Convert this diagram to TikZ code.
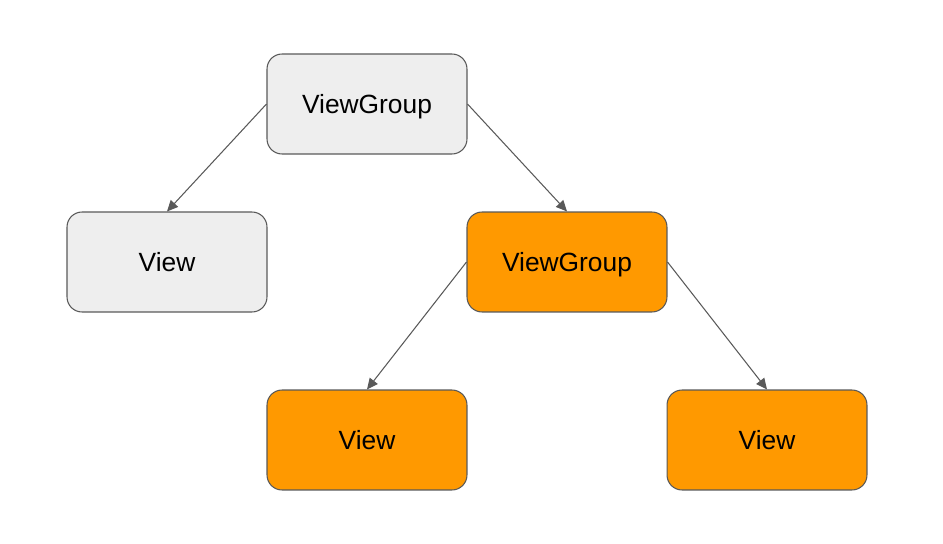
\documentclass[tikz,border=0pt]{standalone}
\usepackage{fontspec}
\setmainfont{Liberation Sans}
\usepackage{tikz}
\usetikzlibrary{arrows.meta}

\definecolor{boxgray}{HTML}{EEEEEE}
\definecolor{linegray}{HTML}{595959}
\definecolor{boxorange}{HTML}{FF9900}

\begin{document}
\begin{tikzpicture}[x=0.02cm,y=-0.02cm,
	box/.style={shape=rectangle,rounded corners=0.3cm,draw=linegray,line width=0.6pt,minimum width=4cm,minimum height=2cm,text depth=0pt,font=\fontsize{15pt}{18pt}\selectfont},
	grey/.style={box,fill=boxgray},
	orange/.style={box,fill=boxorange},
	link/.style={draw=linegray,line width=0.6pt,-{Triangle[length=0.22cm,width=0.2cm]}}]
	\useasboundingbox (0,0) rectangle (943,544);

	\node[grey] (root) at (367, 104)     {ViewGroup};
	\node[grey] (leaf) at (167, 262)     {View};
	\node[orange] (group) at (567, 262)     {ViewGroup};
	\node[orange] (left) at (367, 440)     {View};
	\node[orange] (right) at (767, 440)     {View};

	\path (root.west) edge[link] (leaf.north);
	\path (root.east) edge[link] (group.north);
	\path (group.west) edge[link] (left.north);
	\path (group.east) edge[link] (right.north);

\end{tikzpicture}
\end{document}
